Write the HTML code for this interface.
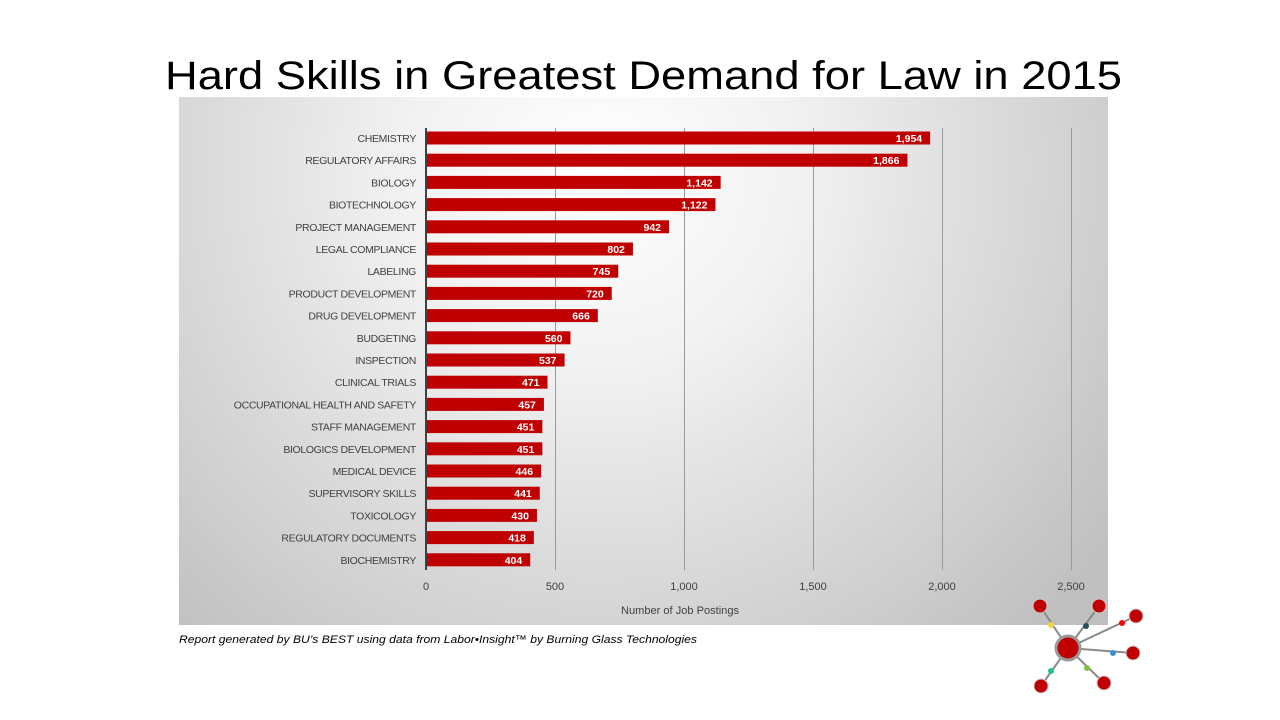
<!DOCTYPE html>
<html><head><meta charset="utf-8"><style>
body{margin:0;width:1280px;height:720px;background:#fff;overflow:hidden;font-family:"Liberation Sans",sans-serif}
</style></head><body>
<svg width="1280" height="720" xmlns="http://www.w3.org/2000/svg" style="position:absolute;left:0;top:0">
<defs>
<radialGradient id="bg" cx="600" cy="170" r="640" gradientUnits="userSpaceOnUse">
<stop offset="0" stop-color="#ffffff"/><stop offset="0.3" stop-color="#f2f2f2"/><stop offset="1" stop-color="#bfbfbf"/>
</radialGradient>
</defs>
<text x="165" y="89" font-size="40" textLength="957" lengthAdjust="spacingAndGlyphs" fill="#000">Hard Skills in Greatest Demand for Law in 2015</text>
<rect x="179" y="97" width="929" height="528" fill="url(#bg)"/>
<g stroke="#9a9a9a" stroke-width="1">
<line x1="555.5" y1="128" x2="555.5" y2="570"/><line x1="684.5" y1="128" x2="684.5" y2="570"/>
<line x1="813.5" y1="128" x2="813.5" y2="570"/><line x1="942.5" y1="128" x2="942.5" y2="570"/>
<line x1="1071.5" y1="128" x2="1071.5" y2="570"/>
</g>
<g id="bars" font-size="11" fill="#404040"></g>
<line x1="426" y1="128" x2="426" y2="570" stroke="#404040" stroke-width="2"/>
<g font-size="11" fill="#404040" text-anchor="middle">
<text x="426" y="590">0</text><text x="555" y="590">500</text><text x="684" y="590">1,000</text>
<text x="813" y="590">1,500</text><text x="942" y="590">2,000</text><text x="1071" y="590">2,500</text>
<text x="680" y="614" textLength="118" lengthAdjust="spacingAndGlyphs">Number of Job Postings</text>
</g>
<text x="179" y="643" font-size="11" font-style="italic" fill="#000" textLength="518" lengthAdjust="spacingAndGlyphs">Report generated by BU’s BEST using data from Labor•Insight™ by Burning Glass Technologies</text>
<g stroke="#8a8a8a" stroke-width="2">
<line x1="1068" y1="648" x2="1040" y2="606"/><line x1="1068" y1="648" x2="1099" y2="606"/>
<line x1="1068" y1="648" x2="1136" y2="616"/><line x1="1068" y1="648" x2="1133" y2="653"/>
<line x1="1068" y1="648" x2="1041" y2="686"/><line x1="1068" y1="648" x2="1104" y2="683"/>
</g>
<circle cx="1068" cy="648" r="12" fill="#c00000" stroke="#999" stroke-width="3"/>
<g fill="#c00000" stroke="#ccc" stroke-width="1">
<circle cx="1040" cy="606" r="7"/><circle cx="1099" cy="606" r="7"/><circle cx="1136" cy="616" r="7"/>
<circle cx="1133" cy="653" r="7"/><circle cx="1041" cy="686" r="7"/><circle cx="1104" cy="683" r="7"/>
</g>
<circle cx="1051" cy="625" r="3" fill="#f5d33a"/><circle cx="1086" cy="626" r="3" fill="#264d5e"/>
<circle cx="1122" cy="623" r="3" fill="#f00"/><circle cx="1113" cy="653" r="3" fill="#3a8fd0"/>
<circle cx="1051" cy="671" r="3" fill="#20c090"/><circle cx="1087" cy="668" r="3" fill="#7cc040"/>
</svg>
<script>
var d=[["CHEMISTRY",1954],["REGULATORY AFFAIRS",1866],["BIOLOGY",1142],["BIOTECHNOLOGY",1122],["PROJECT MANAGEMENT",942],["LEGAL COMPLIANCE",802],["LABELING",745],["PRODUCT DEVELOPMENT",720],["DRUG DEVELOPMENT",666],["BUDGETING",560],["INSPECTION",537],["CLINICAL TRIALS",471],["OCCUPATIONAL HEALTH AND SAFETY",457],["STAFF MANAGEMENT",451],["BIOLOGICS DEVELOPMENT",451],["MEDICAL DEVICE",446],["SUPERVISORY SKILLS",441],["TOXICOLOGY",430],["REGULATORY DOCUMENTS",418],["BIOCHEMISTRY",404]];
var g=document.getElementById("bars"),s="";
d.forEach(function(r,i){var cy=138+i*22.2,w=r[1]*0.258;
s+='<text x="416" y="'+(cy+4)+'" text-anchor="end" font-size="10.5" letter-spacing="-0.35">'+r[0]+'</text>';
s+='<rect x="426" y="'+(cy-6.5)+'" width="'+w+'" height="13" fill="#c00000"/>';
s+='<text x="'+(426+w-8)+'" y="'+(cy+4)+'" text-anchor="end" fill="#fff" font-weight="bold" font-size="10.5">'+r[1].toLocaleString("en-US")+'</text>';});
g.innerHTML=s;
</script>
</body></html>
